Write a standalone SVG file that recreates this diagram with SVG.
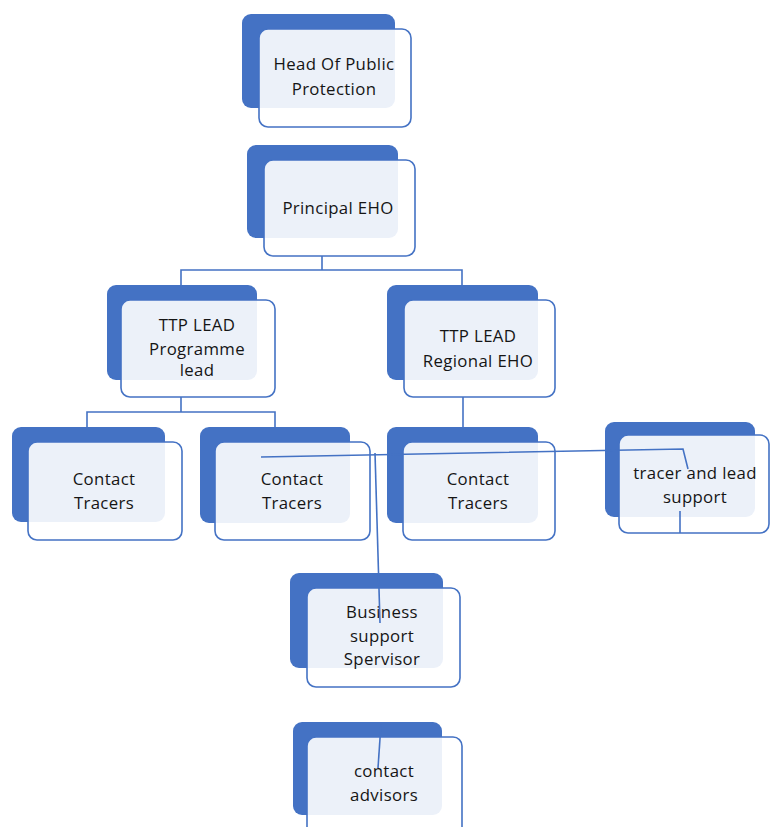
<svg xmlns="http://www.w3.org/2000/svg" width="770" height="827" viewBox="0 0 770 827">
<style>
.back{fill:#4472C4;}
.front{fill:#ffffff;fill-opacity:0.9;stroke:#4472C4;stroke-width:1.6;}
.lbl{font-family:"Open Sans","Noto Sans","Liberation Sans",sans-serif;font-size:16.8px;fill:#151515;text-anchor:middle;letter-spacing:0.35px;}
.conn{fill:none;stroke:#4472C4;stroke-width:1.6;}
</style>
<rect width="770" height="827" fill="#ffffff"/>
<g id="node-head">
<rect class="back" x="242" y="14" width="153" height="94" rx="9"/>
<rect class="front" x="259" y="29" width="152" height="98" rx="9"/>
<text class="lbl" x="334" y="70">Head Of Public</text>
<text class="lbl" x="334" y="95">Protection</text>
</g>
<g id="node-principal">
<rect class="back" x="247" y="145" width="151" height="93" rx="9"/>
<rect class="front" x="264" y="160" width="151" height="96" rx="9"/>
<text class="lbl" x="338" y="214">Principal EHO</text>
</g>
<g id="node-ttp-programme">
<rect class="back" x="107" y="285" width="150" height="95" rx="9"/>
<rect class="front" x="121" y="300" width="154" height="97" rx="9"/>
<text class="lbl" x="197" y="331">TTP LEAD</text>
<text class="lbl" x="197" y="355">Programme</text>
<text class="lbl" x="197" y="376">lead</text>
</g>
<g id="node-ttp-regional">
<rect class="back" x="387" y="285" width="151" height="95" rx="9"/>
<rect class="front" x="404" y="300" width="151" height="97" rx="9"/>
<text class="lbl" x="478" y="342">TTP LEAD</text>
<text class="lbl" x="478" y="367">Regional EHO</text>
</g>
<g id="node-ct1">
<rect class="back" x="12" y="427" width="153" height="95" rx="9"/>
<rect class="front" x="28" y="442" width="154" height="98" rx="9"/>
<text class="lbl" x="104" y="485">Contact</text>
<text class="lbl" x="104" y="509">Tracers</text>
</g>
<g id="node-ct2">
<rect class="back" x="200" y="427" width="150" height="96" rx="9"/>
<rect class="front" x="215" y="442" width="155" height="98" rx="9"/>
<text class="lbl" x="292" y="485">Contact</text>
<text class="lbl" x="292" y="509">Tracers</text>
</g>
<g id="node-ct3">
<rect class="back" x="387" y="427" width="151" height="96" rx="9"/>
<rect class="front" x="403" y="442" width="152" height="98" rx="9"/>
<text class="lbl" x="478" y="485">Contact</text>
<text class="lbl" x="478" y="509">Tracers</text>
</g>
<g id="node-tracer-support">
<rect class="back" x="605" y="422" width="150" height="95" rx="9"/>
<rect class="front" x="619" y="435" width="150" height="98" rx="9"/>
<text class="lbl" x="695" y="479">tracer and lead</text>
<text class="lbl" x="695" y="503">support</text>
</g>
<g id="node-business">
<rect class="back" x="290" y="573" width="153" height="95" rx="9"/>
<rect class="front" x="307" y="588" width="153" height="99" rx="9"/>
<text class="lbl" x="382" y="618">Business</text>
<text class="lbl" x="382" y="642">support</text>
<text class="lbl" x="382" y="665">Spervisor</text>
</g>
<g id="node-advisors">
<rect class="back" x="293" y="722" width="149" height="93" rx="9"/>
<rect class="front" x="307" y="737" width="155" height="100" rx="9"/>
<text class="lbl" x="384" y="777">contact</text>
<text class="lbl" x="384" y="801">advisors</text>
</g>
<g id="connectors">
<path class="conn" d="M322 256 V270 M181 285 V270 H462 V285"/>
<path class="conn" d="M181 397 V412 M87 427 V412 H275 V427"/>
<path class="conn" d="M463 397 V427"/>
<path class="conn" d="M261 457 L683 449 L688 469"/>
<path class="conn" d="M375 453 L380 623"/>
<path class="conn" d="M680 511 V533"/>
<path class="conn" d="M381 724 L378 768"/>
</g>
</svg>
